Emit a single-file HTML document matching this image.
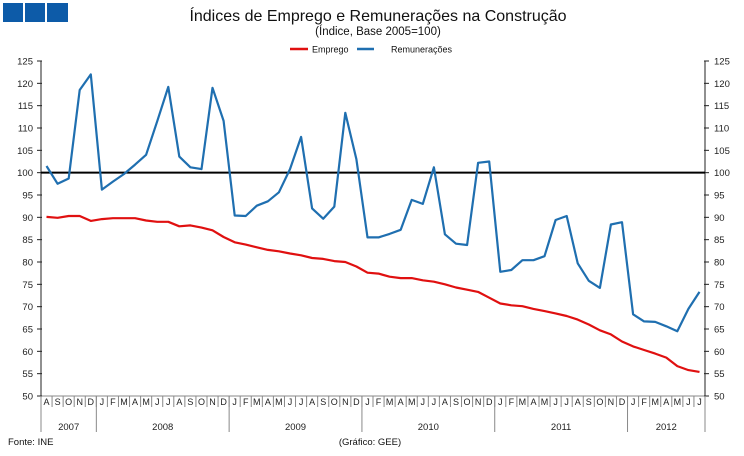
<!DOCTYPE html>
<html><head><meta charset="utf-8"><style>
body{margin:0;background:#fff;}
svg{display:block;font-family:"Liberation Sans",sans-serif;}
</style></head><body>
<svg id="c" width="744" height="456">
<rect x="3" y="3" width="20" height="19" fill="#0d5ba8"/>
<rect x="25" y="3" width="20" height="19" fill="#0d5ba8"/>
<rect x="47" y="3" width="21" height="19" fill="#0d5ba8"/>
<text x="378" y="21" text-anchor="middle" font-size="16" fill="#111">Índices de Emprego e Remunerações na Construção</text>
<text x="378" y="35" text-anchor="middle" font-size="11.5" fill="#111">(Índice,  Base 2005=100)</text>
<g>
<line x1="290" y1="49" x2="308" y2="49" stroke="#e01010" stroke-width="2.5"/>
<text x="312" y="52.5" font-size="9" fill="#111">Emprego</text>
<line x1="357" y1="49" x2="374" y2="49" stroke="#1f6fb0" stroke-width="2.5"/>
<text x="391" y="52.5" font-size="9" fill="#111">Remunerações</text>
</g>
<g id="g"></g>
<text x="8" y="445" font-size="9.5" fill="#111">Fonte: INE</text>
<text x="370" y="445" text-anchor="middle" font-size="9.5" fill="#111">(Gráfico:  GEE)</text>
</svg>
<script>
const months=["A","S","O","N","D","J","F","M","A","M","J","J","A","S","O","N","D","J","F","M","A","M","J","J","A","S","O","N","D","J","F","M","A","M","J","J","A","S","O","N","D","J","F","M","A","M","J","J","A","S","O","N","D","J","F","M","A","M","J","J"];
const years=["2007","2008","2009","2010","2011","2012"];
const yearCounts=[5,12,12,12,12,7];
const yTicks=[50,55,60,65,70,75,80,85,90,95,100,105,110,115,120,125];
const remuneracoes=[101.5,97.5,98.7,118.5,122,96.2,98,99.7,101.8,104,111.5,119.2,103.6,101.2,100.8,119,111.6,90.4,90.3,92.6,93.6,95.6,100.8,108,92,89.7,92.4,113.4,103,85.5,85.5,86.3,87.2,93.9,93,101.2,86.2,84.1,83.8,102.2,102.5,77.8,78.2,80.4,80.4,81.3,89.4,90.3,79.7,75.8,74.2,88.4,88.9,68.3,66.7,66.6,65.6,64.5,69.5,73.3];
const emprego=[90.1,89.9,90.3,90.3,89.2,89.6,89.8,89.8,89.8,89.3,89.0,89.0,88.0,88.2,87.7,87.1,85.6,84.4,83.9,83.3,82.7,82.4,81.9,81.5,80.9,80.7,80.2,80.0,79.0,77.6,77.4,76.7,76.4,76.4,75.9,75.6,75.0,74.3,73.8,73.3,72.0,70.7,70.3,70.1,69.5,69.0,68.5,67.9,67.1,66.0,64.7,63.8,62.2,61.1,60.3,59.5,58.6,56.7,55.8,55.4];
const baseLine=100;
const L=41,R=705,T=61,B=396,yMin=50,yMax=125;
const n=months.length,cw=(R-L)/n;
const xC=i=>L+cw*(i+0.5), xB=i=>L+cw*i;
const y=v=>B-(v-yMin)/(yMax-yMin)*(B-T);
const g=document.getElementById('g');
const NS="http://www.w3.org/2000/svg";
function mk(t,a){const e=document.createElementNS(NS,t);for(const k in a)e.setAttribute(k,a[k]);g.appendChild(e);return e;}
let e;
e=mk('line',{x1:L,y1:T,x2:L,y2:B,stroke:'#222','stroke-width':1});


e=mk('line',{x1:R,y1:T,x2:R,y2:B,stroke:'#222','stroke-width':1});


e=mk('line',{x1:L,y1:B,x2:R,y2:B,stroke:'#888','stroke-width':1});


yTicks.forEach(v=>{
 mk('line',{x1:L-4,y1:y(v),x2:L+1,y2:y(v),stroke:'#222'});
 mk('line',{x1:R-1,y1:y(v),x2:R+4,y2:y(v),stroke:'#222'});
 e=mk('text',{x:L-8,y:y(v)+3.5,'text-anchor':'end','font-size':9.5,fill:'#222'});e.textContent=v;
 
 
 e=mk('text',{x:R+9,y:y(v)+3.5,'font-size':9.5,fill:'#222'});e.textContent=v;
 
 
});
months.forEach((m,i)=>{
 mk('line',{x1:xB(i),y1:B,x2:xB(i),y2:B+11,stroke:'#888'});
 e=mk('text',{x:xC(i),y:B+9,'text-anchor':'middle','font-size':9,fill:'#222'});e.textContent=m;
 
 
});
mk('line',{x1:R,y1:B,x2:R,y2:B+11,stroke:'#888'});
let s=0;
yearCounts.forEach((c,k)=>{
 mk('line',{x1:xB(s),y1:B,x2:xB(s),y2:B+36,stroke:'#888'});
 e=mk('text',{x:xB(s)+c*cw/2,y:B+34,'text-anchor':'middle','font-size':9.5,fill:'#222'});e.textContent=years[k];
 
 
 s+=c;
});
mk('line',{x1:R,y1:B,x2:R,y2:B+36,stroke:'#888'});
e=mk('line',{x1:L,y1:y(baseLine),x2:R,y2:y(baseLine),stroke:'#000','stroke-width':2});


function path(d){return d.map((v,i)=>(i?'L':'M')+xC(i).toFixed(1)+','+y(v).toFixed(1)).join('');}
e=mk('path',{d:path(emprego),fill:'none',stroke:'#e01010','stroke-width':2.2,'stroke-linejoin':'round'});


e=mk('path',{d:path(remuneracoes),fill:'none',stroke:'#1f6fb0','stroke-width':2.2,'stroke-linejoin':'round'});


</script>
</body></html>
